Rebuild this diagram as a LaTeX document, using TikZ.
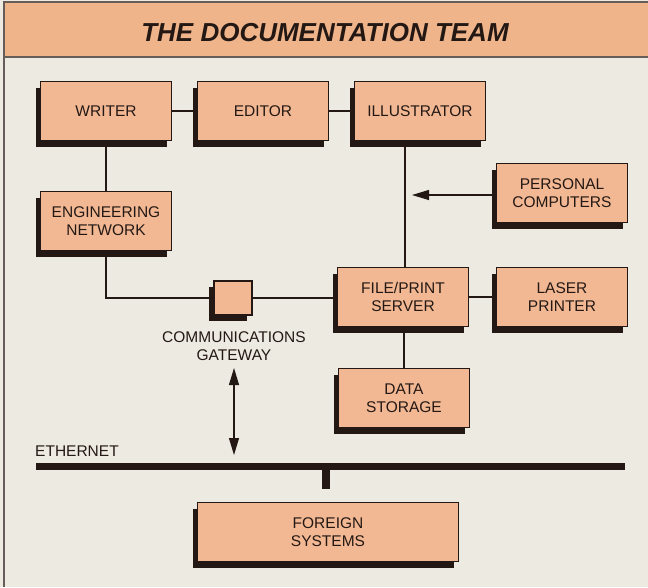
\documentclass[tikz,border=0pt]{standalone}
\usepackage{fontspec}
\setmainfont{Liberation Sans}
\usetikzlibrary{arrows.meta,shadows}
\definecolor{cream}{HTML}{EDEAE1}
\definecolor{peach}{HTML}{F1B893}
\definecolor{headpeach}{HTML}{EFB48A}
\definecolor{ink}{HTML}{241814}

\begin{document}
\begin{tikzpicture}[x=1pt,y=-1pt,
    box/.style={draw=ink, line width=1.5pt, fill=peach, text=ink,
      minimum width=131pt, minimum height=59pt, inner sep=0pt, align=center,
      font=\fontsize{15.5}{18.5}\selectfont,
      drop shadow={shadow xshift=-5pt, shadow yshift=-6pt, fill=ink, opacity=1}},
    link/.style={draw=ink, line width=1.4pt},
    arrowline/.style={draw=ink, line width=1.1pt},
    tip/.style={-{Triangle[length=17pt,width=10pt]}}]
    \useasboundingbox (0,0) rectangle (648,587);
    % background and header
    \fill[cream] (0,0) rectangle (648,587);
    \fill[headpeach] (4,2) rectangle (648,57);
    \draw[ink!70, line width=1.2pt] (648,2) -- (4,2) -- (4,587);
    \draw[ink!70, line width=1.2pt] (4,57) -- (648,57);
    \node[text=ink, font=\fontsize{26}{30}\selectfont\bfseries\itshape] (title) at (325,33) {THE DOCUMENTATION TEAM};

    % draw boxes
    \node[box] (writer) at (106,111) {WRITER};
    \node[box] (editor) at (263,111) {EDITOR};
    \node[box] (illustrator) at (420,111) {ILLUSTRATOR};
    \node[box] (engnet) at (106,221) {ENGINEERING\\NETWORK};
    \node[box] (pc) at (562,193) {PERSONAL\\COMPUTERS};
    \node[box] (server) at (403,297) {FILE/PRINT\\SERVER};
    \node[box] (laser) at (562,297) {LASER\\PRINTER};
    \node[box] (storage) at (404,398) {DATA\\STORAGE};
    \node[box, minimum width=261pt] (foreign) at (328,532) {FOREIGN\\SYSTEMS};
    \node[box, minimum width=38pt, minimum height=34pt] (gateway) at (233,298) {};
    \node[text=ink, align=center, font=\fontsize{15.5}{18.5}\selectfont] (gwlabel) at (234,346) {COMMUNICATIONS\\GATEWAY};

    % draw lines
    \draw[link] (writer) -- (editor);
    \draw[link] (editor) -- (illustrator);
    \draw[link] (writer) -- (engnet);
    \draw[link] (illustrator.south -| 405,0) -- (server.north -| 405,0);
    \coordinate (pcend) at (412,195);
    \draw[arrowline, tip] (pc.west |- pcend) -- (pcend);
    \draw[link] (engnet.south) |- (gateway.west);
    \draw[link] (gateway.east) -- (gateway.east -| server.west);
    \draw[link] (server) -- (laser);
    \draw[link] (server.south -| storage.north) -- (storage.north);
    \coordinate (gwtop) at (234,368);
    \coordinate (gwbot) at (234,455);
    \draw[arrowline, {Triangle[length=17pt,width=10pt]}-{Triangle[length=17pt,width=10pt]}] (gwtop) -- (gwbot);

    % ethernet
    \coordinate (ethl) at (36,466);
    \coordinate (ethr) at (625,466);
    \coordinate (tap) at (326,466);
    \draw[ink, line width=7pt] (ethl) -- (ethr);
    \draw[ink, line width=8pt] (tap) -- ++(0,23);
    \node[anchor=west, text=ink, font=\fontsize{15.5}{18.5}\selectfont, inner sep=0pt] (ethlabel) at (35,451) {ETHERNET};
\end{tikzpicture}
\end{document}
